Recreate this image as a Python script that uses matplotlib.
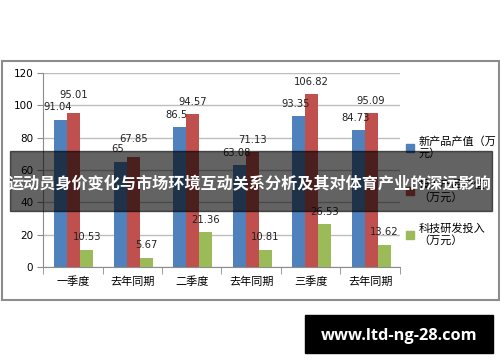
import matplotlib
matplotlib.use("Agg")
import matplotlib.pyplot as plt
import numpy as np
from matplotlib.patches import Rectangle, Patch

plt.rcParams['font.family'] = ['Noto Sans CJK SC', 'DejaVu Sans']

# data
categories = ['一季度', '去年同期', '二季度', '去年同期', '三季度', '去年同期']
new_value = [91.04, 65, 86.5, 63.08, 93.35, 84.73]
input_value = [95.01, 67.85, 94.57, 71.13, 106.82, 95.09]
rd_input = [10.53, 5.67, 21.36, 10.81, 26.53, 13.62]
series_names = ['新产品产值（万\n元）', '投入产品产值\n（万元）', '科技研发投入\n（万元）']
colors = ['#4F81BD', '#C0504D', '#9BBB59']
title = '运动员身价变化与市场环境互动关系分析及其对体育产业的深远影响'
watermark = 'www.ltd-ng-28.com'

W, H = 500, 362
fig = plt.figure(figsize=(W / 100, H / 100), dpi=100)
fig.patch.set_facecolor('white')

# chart frame
fig.patches.append(Rectangle((2 / W, 1 - 300 / H), 497 / W, 239 / H,
                             transform=fig.transFigure, fill=False,
                             edgecolor='#8c8c8c', linewidth=1.5, zorder=0))

ax = fig.add_axes([43 / W, 1 - 267 / H, 357 / W, 194 / H])
x = np.arange(len(categories))
w = 0.22
offs = [-0.205, 0.015, 0.235]
all_series = [new_value, input_value, rd_input]
for s, vals in enumerate(all_series):
    ax.bar(x + offs[s], vals, w, color=colors[s], zorder=3)
    for i, v in enumerate(vals):
        dx = -2 if s == 0 else 0
        dy = 9
        if s == 1 and i in (0, 1):
            dy = 13
        ax.annotate(f'{v:g}', (x[i] + offs[s], v), xytext=(dx, dy),
                    textcoords='offset points', ha='center', va='center',
                    fontsize=7.2, family='DejaVu Sans', color='#222222', zorder=4)

ax.set_xlim(-0.5, len(categories) - 0.5)
ax.set_ylim(0, 120)
ax.set_yticks(range(0, 121, 20))
ax.grid(axis='y', color='#bdbdbd', linewidth=1, zorder=0)
ax.set_xticks(x)
ax.set_xticklabels(categories, fontsize=8)
ax.set_xticks(np.arange(-0.5, len(categories), 1), minor=True)
ax.tick_params(axis='x', which='major', length=0, pad=7)
ax.tick_params(axis='x', which='minor', length=5, color='#8c8c8c')
ax.tick_params(axis='y', length=4, color='#8c8c8c', labelsize=7.5, pad=3)
for lab in ax.get_yticklabels():
    lab.set_family('DejaVu Sans')
for sp in ['top', 'right']:
    ax.spines[sp].set_visible(False)
for sp in ['left', 'bottom']:
    ax.spines[sp].set_color('#8c8c8c')

handles = [Patch(color=c) for c in colors]
fig.legend(handles, series_names, loc='upper left',
           bbox_to_anchor=(396 / W, 1 - 126 / H), frameon=False,
           fontsize=8, handlelength=0.7, handleheight=0.7, handletextpad=0.4,
           labelspacing=1.85)

# banner overlay
fig.patches.append(Rectangle((10 / W, 1 - 211 / H), 482 / W, 60 / H,
                             transform=fig.transFigure, color='black',
                             alpha=0.61, zorder=10))
fig.text(250 / W, 1 - 184 / H, title, color='white', fontsize=11.6,
         fontweight='bold', ha='center', va='center', zorder=11)

# watermark
fig.patches.append(Rectangle((305 / W, 1 - 353 / H), 188 / W, 38 / H,
                             transform=fig.transFigure, color='black', zorder=10))
fig.text(399 / W, 1 - 336 / H, watermark, color='white', fontsize=11.8,
         fontweight='bold', family='Open Sans', ha='center', va='center', zorder=11)

fig.savefig('out.png', dpi=100)
